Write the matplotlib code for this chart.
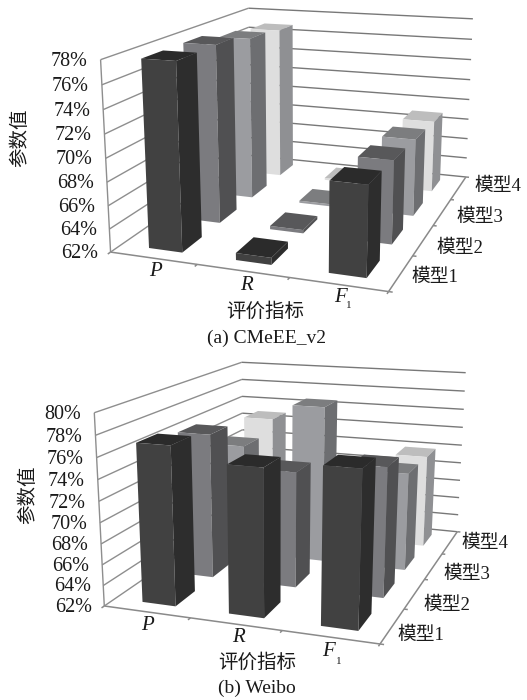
import numpy as np
import matplotlib
matplotlib.use("Agg")
import matplotlib.pyplot as plt
from mpl_toolkits.mplot3d.art3d import Line3DCollection
from mpl_toolkits.mplot3d import proj3d

plt.rcParams['font.family'] = ['Liberation Serif', 'Noto Sans CJK SC']

metrics = ['P', 'R', 'F']
metric_subs = ['', '', '1']
models = ['模型1', '模型2', '模型3', '模型4']

# rows are models, columns are P, R, F1 (percent)
cmeee_values = [[77.9, 62.6, 69.5],
                [77.9, 62.3, 69.3],
                [77.2, 62.2, 69.1],
                [76.8, 62.2, 68.9]]
weibo_values = [[77.1, 75.8, 76.4],
                [76.4, 73.4, 74.6],
                [73.5, 78.1, 72.0],
                [74.8, 70.0, 71.85]]

cmeee_ticks = [62, 64, 66, 68, 70, 72, 74, 76, 78]
weibo_ticks = [62, 64, 66, 68, 70, 72, 74, 76, 78, 80]

# bottom, top, front, back, left, right (hidden faces stay transparent)
HIDDEN = '#00000000'
face_colors = [
    [HIDDEN, '#2b2b2b', '#414141', HIDDEN, HIDDEN, '#2d2d2d'],
    [HIDDEN, '#58585a', '#7b7b7f', HIDDEN, HIDDEN, '#505052'],
    [HIDDEN, '#7c7d7f', '#9b9ca0', HIDDEN, HIDDEN, '#6d6e71'],
    [HIDDEN, '#bdbdbd', '#dedede', HIDDEN, HIDDEN, '#8f9093'],
]

W, H = 527, 700
BAR_W = 0.39
BAR_D = 0.50
INK = '#1a1a1a'


def fit_camera(ax, frame_3d, frame_px):
    # solve the 3x4 camera from frame corners
    ax.apply_aspect()
    disp = np.array([[px, H - py] for px, py in frame_px], dtype=float)
    uv = ax.transData.inverted().transform(disp)
    rows = []
    for (x, y, z), (u, v) in zip(frame_3d, uv):
        p = [x, y, z, 1]
        rows.append(list(p) + [0, 0, 0, 0] + [-u * c for c in p])
        rows.append([0, 0, 0, 0] + list(p) + [-v * c for c in p])
    P = np.linalg.svd(np.array(rows))[2][-1].reshape(3, 4)
    if P[2, 3] < 0:
        P = -P
    return np.vstack([P[0], P[1], [0.0, 0.0, 1.0, 0.0], P[2]])


def px_text(fig, x, y, s, **kw):
    kw.setdefault('color', INK)
    kw.setdefault('ha', 'center')
    kw.setdefault('va', 'center')
    fig.text(x / W, 1 - y / H, s, **kw)


def draw_panel(fig, rect, values, ticks, frame_px, metric_px, sub_px, model_px, ylab_px, xlab_px, caption, cap_px):
    ax = fig.add_axes(rect, projection='3d', computed_zorder=False)
    ax.set_axis_off()
    ax.set_facecolor('none')

    nx, ny = len(metrics), len(models)
    z0, z1 = ticks[0], ticks[-1]
    frame_3d = [(0, 0, z0), (0, 0, z1), (nx, 0, z0),
                (nx, ny, z0), (nx, ny, z1), (0, ny, z1)]
    M = fit_camera(ax, frame_3d, frame_px)
    ax.get_proj = lambda: M

    # walls
    left_wall = [[(0, 0, z), (0, ny, z)] for z in ticks] + [[(0, 0, z0), (0, 0, z1)]]
    back_wall = [[(0, ny, z), (nx, ny, z)] for z in ticks]
    ax.add_collection3d(Line3DCollection(left_wall, colors='#8e8e8e', linewidths=1.0, zorder=1))
    ax.add_collection3d(Line3DCollection(back_wall, colors='#787878', linewidths=1.0, zorder=1))

    # floor edges and tick marks
    floor = [[(0, 0, z0), (nx, 0, z0)], [(nx, 0, z0), (nx, ny, z0)]]
    floor += [[(i, 0, z0), (i, -0.06, z0)] for i in range(nx + 1)]
    floor += [[(nx, j, z0), (nx + 0.04, j, z0)] for j in range(ny + 1)]
    ax.add_collection3d(Line3DCollection(floor, colors='#8a8a8a', linewidths=1.1, zorder=1))

    # bars, far row first, left to right inside a row
    order = 10
    for j in range(ny - 1, -1, -1):
        for i in range(nx):
            ax.bar3d(i + 0.52 - BAR_W / 2, j + 0.5 - BAR_D / 2, z0,
                     BAR_W, BAR_D, values[j][i] - z0,
                     color=face_colors[j], shade=False, edgecolor='none', zorder=order)
            order += 1

    # value labels sit just left of the front vertical axis
    for z in ticks:
        tx, ty, _ = proj3d.proj_transform(-0.15, 0, z, M)
        dx, dy = ax.transData.transform((tx, ty))
        fig.text(dx / W, (dy - 3) / H, '%d%%' % z, fontsize=14.5, ha='right', va='center', color=INK)

    for name, sub, (x, y), (sx, sy) in zip(metrics, metric_subs, metric_px, sub_px):
        px_text(fig, x, y, name, fontsize=15, style='italic')
        if sub:
            px_text(fig, sx, sy, sub, fontsize=8)
    for name, (x, y) in zip(models, model_px):
        px_text(fig, x, y, name, fontsize=13.5)

    px_text(fig, ylab_px[0], ylab_px[1], '参数值', fontsize=14, rotation=90)
    px_text(fig, xlab_px[0], xlab_px[1], '评价指标', fontsize=14)
    px_text(fig, cap_px[0], cap_px[1], caption, fontsize=14)
    return ax


fig = plt.figure(figsize=(W / 100, H / 100), dpi=100)
side = W / H

# square 3d axes, one for the top half and one for the bottom half
draw_panel(fig, [0, 1 - side, 1, side], cmeee_values, cmeee_ticks,
           [(110.7, 252.3), (100.7, 59.3), (388.3, 291.7),
            (466.0, 176.7), (473.0, 19.0), (248.3, 8.3)],
           [(155, 272), (246, 285), (340, 298)],
           [(0, 0), (0, 0), (349, 306)],
           [(435, 277), (460, 248), (480, 217), (498, 186)],
           (20, 138), (265, 312), '(a) CMeEE_v2', (267, 338))
draw_panel(fig, [0, 0, 1, side], weibo_values, weibo_ticks,
           [(104.3, 606.0), (94.3, 412.7), (380.0, 644.0),
            (457.3, 531.7), (465.7, 372.7), (241.7, 362.3)],
           [(147, 625), (238, 638), (328, 651)],
           [(0, 0), (0, 0), (339, 661)],
           [(421, 635), (447, 605), (467, 574), (485, 543)],
           (28, 495), (257, 663), '(b) Weibo', (257, 688))

fig.savefig('out.png', dpi=100)
